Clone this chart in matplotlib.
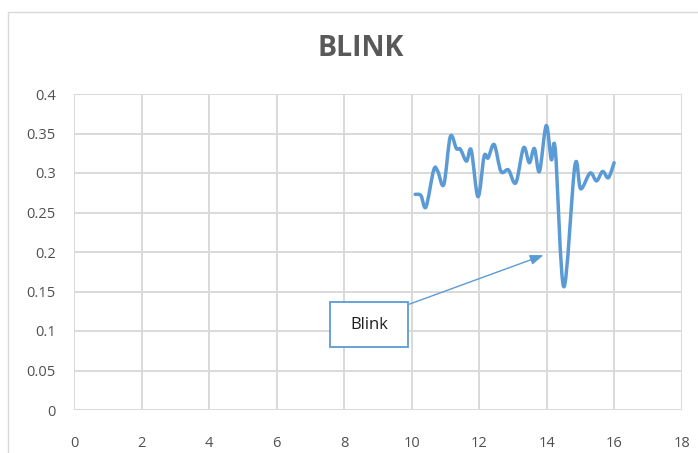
import numpy as np
import matplotlib
matplotlib.use("Agg")
import matplotlib.pyplot as plt
from matplotlib.path import Path
from matplotlib.patches import PathPatch, Rectangle

# Blink series (time vs. value)
time_vals = [10.10, 10.27, 10.42, 10.65, 10.77, 10.95, 11.14, 11.32, 11.44, 11.62,
             11.76, 11.96, 12.14, 12.26, 12.44, 12.64, 12.86, 13.08, 13.31, 13.48,
             13.63, 13.78, 13.98, 14.13, 14.25, 14.50, 14.83, 15.00, 15.28, 15.47,
             15.65, 15.82, 15.99]
blink_vals = [0.273, 0.2715, 0.257, 0.304, 0.302, 0.2855, 0.346, 0.331, 0.330, 0.315,
              0.329, 0.270, 0.321, 0.319, 0.336, 0.302, 0.304, 0.2876, 0.332, 0.313,
              0.331, 0.302, 0.360, 0.317, 0.329, 0.156, 0.3095, 0.280, 0.300, 0.290,
              0.302, 0.294, 0.313]

x_ticks = [0, 2, 4, 6, 8, 10, 12, 14, 16, 18]
y_ticks = [0, 0.05, 0.1, 0.15, 0.2, 0.25, 0.3, 0.35, 0.4]
y_tick_labels = ["0", "0.05", "0.1", "0.15", "0.2", "0.25", "0.3", "0.35", "0.4"]

title_text = "BLINK"
note_text = "Blink"

LINE_BLUE = "#5B9BD5"
GRID = "#D9D9D9"
TEXT_GREY = "#595959"

plt.rcParams["font.family"] = ["Open Sans", "DejaVu Sans"]

W, H = 698, 453
fig = plt.figure(figsize=(W / 100, H / 100), dpi=100)

# chart frame
fig.patches.append(Rectangle((8 / W, -0.1), 1.2, 1 - 12 / H + 0.1, transform=fig.transFigure,
                             fill=False, edgecolor="#D9D9D9", linewidth=1.0))

ax = fig.add_axes([74 / W, 1 - 410 / H, (682 - 74) / W, (410 - 94) / H])
ax.set_xlim(0, 18)
ax.set_ylim(0, 0.4)
ax.set_xticks(x_ticks)
ax.set_yticks(y_ticks)
ax.set_yticklabels(y_tick_labels)
ax.grid(True, color=GRID, linewidth=1.4)
ax.set_axisbelow(True)
for s in ax.spines.values():
    s.set_visible(False)
ax.tick_params(length=0, labelsize=10.5, labelcolor="#505050")
ax.tick_params(axis="x", pad=19)
ax.tick_params(axis="y", pad=13)


def smooth_path(xs, ys):
    """Catmull-Rom style smoothed line as cubic Bezier segments."""
    pts = np.column_stack([xs, ys])
    n = len(pts)
    verts = [pts[0]]
    codes = [Path.MOVETO]
    for i in range(n - 1):
        p0 = pts[i - 1] if i > 0 else pts[i]
        p1 = pts[i]
        p2 = pts[i + 1]
        p3 = pts[i + 2] if i + 2 < n else pts[i + 1]
        c1 = p1 + (p2 - p0) / 6.0
        c2 = p2 - (p3 - p1) / 6.0
        verts += [c1, c2, p2]
        codes += [Path.CURVE4] * 3
    return Path(verts, codes)


ax.add_patch(PathPatch(smooth_path(time_vals, blink_vals), facecolor="none",
                       edgecolor=LINE_BLUE, linewidth=2.5, capstyle="round",
                       joinstyle="round", zorder=3))

# callout box with arrow
ax.add_patch(Rectangle((7.58, 0.0797), 2.31, 0.057, facecolor="white",
                       edgecolor=LINE_BLUE, linewidth=1.3, zorder=4))
ax.text(8.73, 0.108, note_text, ha="center", va="center", fontsize=12,
        color="#1f1f1f", zorder=5)
ax.annotate("", xy=(13.9, 0.196), xytext=(9.93, 0.134),
            arrowprops=dict(arrowstyle="-|>,head_length=0.8,head_width=0.3",
                            color=LINE_BLUE, linewidth=1.0, shrinkA=0, shrinkB=0),
            zorder=5)

fig.text(361 / W, 1 - 48 / H, title_text, ha="center", va="center",
         fontsize=20.5, fontweight="bold", color=TEXT_GREY)

fig.savefig("out.png", dpi=100)
